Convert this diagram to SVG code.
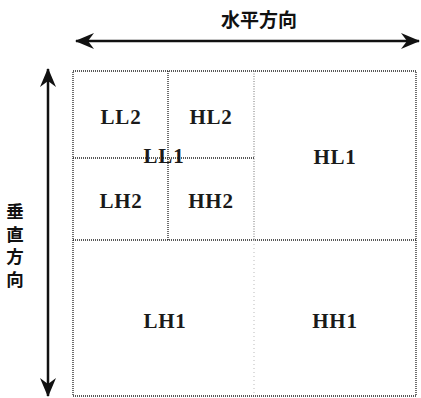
<svg xmlns="http://www.w3.org/2000/svg" width="421" height="398" viewBox="0 0 421 398">
<style>
.lbl{font-family:"Liberation Serif","DejaVu Serif",serif;font-size:21px;font-weight:bold;fill:#1a1a1a;text-anchor:middle;letter-spacing:0.8px}
.cjk{font-family:"Noto Sans CJK JP","Noto Sans CJK SC",sans-serif;font-size:19px;font-weight:bold;fill:#111;text-anchor:middle}
.cjkv{font-family:"Noto Sans CJK JP","Noto Sans CJK SC",sans-serif;font-size:17.5px;font-weight:bold;fill:#111;writing-mode:vertical-rl;letter-spacing:5px}
.dot{fill:none;stroke:#222;stroke-width:1.3;stroke-dasharray:1 1}
.dotl{fill:none;stroke:#777;stroke-width:1;stroke-dasharray:1 1.5}
.dotf{fill:none;stroke:#bbb;stroke-width:1;stroke-dasharray:1 3}
.arr{stroke:#111;stroke-width:2.5;fill:none;marker-start:url(#ah);marker-end:url(#ah)}
</style>
<defs>
<marker id="ah" viewBox="-20 -9 22 18" markerWidth="22" markerHeight="18" refX="0" refY="0" orient="auto-start-reverse" markerUnits="userSpaceOnUse">
<path d="M1,0 L-18,-8 L-12,0 L-18,8 Z" fill="#111"/>
</marker>
</defs>
<g id="outer">
<rect class="dot" x="73" y="71" width="343" height="325"/>
</g>
<g id="dividers">
<line class="dot" x1="73" y1="240" x2="416" y2="240"/>
<line class="dotl" x1="254" y1="71" x2="254" y2="240"/>
<line class="dotf" x1="254" y1="240" x2="254" y2="396"/>
<line class="dot" x1="168" y1="71" x2="168" y2="240"/>
<line class="dot" x1="73" y1="158" x2="254" y2="158"/>
</g>
<g id="LL2"><text class="lbl" x="121" y="124">LL2</text></g>
<g id="HL2"><text class="lbl" x="211" y="124">HL2</text></g>
<g id="LL1"><text class="lbl" x="164" y="163">LL1</text></g>
<g id="LH2"><text class="lbl" x="121" y="208">LH2</text></g>
<g id="HH2"><text class="lbl" x="211" y="208">HH2</text></g>
<g id="HL1"><text class="lbl" x="335" y="164">HL1</text></g>
<g id="LH1"><text class="lbl" x="165" y="328">LH1</text></g>
<g id="HH1"><text class="lbl" x="335" y="328">HH1</text></g>
<g id="connectors">
<line class="arr" x1="76" y1="41" x2="419" y2="41"/>
<line class="arr" x1="48" y1="69" x2="48" y2="396"/>
</g>
<g id="labels">
<text class="cjk" x="259" y="27">水平方向</text>
<text class="cjkv" x="15" y="203">垂直方向</text>
</g>
</svg>
